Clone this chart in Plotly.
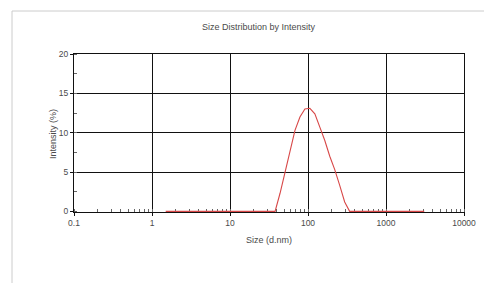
import plotly.graph_objects as go

sizes = [1.499, 1.736, 2.01, 2.328, 2.696, 3.122, 3.615, 4.187, 4.849, 5.615, 6.503,
         7.531, 8.721, 10.1, 11.7, 13.54, 15.69, 18.17, 21.04, 24.36, 28.21, 32.67,
         37.84, 43.82, 50.75, 58.77, 68.06, 78.82, 91.28, 105.7, 122.4, 141.8, 164.2,
         190.1, 220.2, 255.0, 295.3, 342.0, 396.1, 458.7, 531.2, 615.1, 712.4, 825.0,
         955.4, 1106, 1281, 1484, 1718, 1990, 2305, 2669, 3091]
intensity = [0, 0, 0, 0, 0, 0, 0, 0, 0, 0, 0,
             0, 0, 0, 0, 0, 0, 0, 0, 0, 0, 0,
             0, 2.3, 5.0, 7.7, 10.3, 12.0, 13.0, 13.1, 12.4, 10.7, 9.0,
             7.0, 5.3, 3.3, 1.2, 0, 0, 0, 0, 0, 0, 0,
             0, 0, 0, 0, 0, 0, 0, 0, 0]
x_ticks = [0.1, 1, 10, 100, 1000, 10000]
x_ticktext = ["0.1", "1", "10", "100", "1000", "10000"]
y_ticks = [0, 5, 10, 15, 20]

FONT = "Liberation Sans, Arial, sans-serif"
TXT = "#4a4a4a"
OFF = 8  # page body margin

W, H = 492, 285
L, T = 74 - OFF, 54 - OFF
pw, ph = 390, 158
R = W - L - pw
B = H - T - ph

def px(xp):
    return (xp - OFF - L) / pw

def py(yp):
    return (T + ph - (yp - OFF)) / ph

fig = go.Figure()
fig.add_trace(go.Scatter(x=sizes, y=intensity, mode="lines",
                         line=dict(color="#d84848", width=1.1), showlegend=False))

frame = dict(color="#cccccc", width=1)
fig.update_layout(
    width=W, height=H,
    margin=dict(l=L, r=R, t=T, b=B),
    paper_bgcolor="white", plot_bgcolor="white",
    font=dict(family=FONT, size=8, color=TXT),
    xaxis=dict(type="log", range=[-1, 4], tickvals=x_ticks, ticktext=x_ticktext,
               showgrid=True, gridcolor="#111111", gridwidth=1,
               showline=True, linecolor="#111111", linewidth=1, mirror=True,
               ticks="outside", ticklen=3, tickcolor="#111111",
               minor=dict(ticks="inside", ticklen=3, tickcolor="#666666", dtick="D1", showgrid=False),
               zeroline=False, layer="below traces",
               tickfont=dict(family=FONT, size=8.5, color=TXT)),
    yaxis=dict(range=[-0.08, 20], tickvals=y_ticks,
               showgrid=True, gridcolor="#111111", gridwidth=1,
               showline=True, linecolor="#111111", linewidth=1, mirror=True,
               ticks="outside", ticklen=3, tickcolor="#111111",
               minor=dict(ticks="inside", ticklen=3, tickcolor="#666666", dtick=2.5, showgrid=False),
               zeroline=False, layer="below traces",
               tickfont=dict(family=FONT, size=8.5, color=TXT)),
    shapes=[
        dict(type="line", xref="paper", yref="paper", x0=px(12), x1=px(600),
             y0=py(11), y1=py(11), line=frame, layer="below"),
        dict(type="line", xref="paper", yref="paper", x0=px(12), x1=px(12),
             y0=py(11), y1=py(283), line=frame, layer="below"),
    ],
    annotations=[
        dict(text="Size Distribution by Intensity", xref="paper", yref="paper",
             x=px(259), y=py(27), showarrow=False, xanchor="center", yanchor="middle",
             font=dict(family=FONT, size=9, color=TXT)),
        dict(text="Size (d.nm)", xref="paper", yref="paper",
             x=px(269), y=py(240), showarrow=False, xanchor="center", yanchor="middle",
             font=dict(family=FONT, size=9, color=TXT)),
        dict(text="Intensity (%)", xref="paper", yref="paper", textangle=-90,
             x=px(53), y=py(134), showarrow=False, xanchor="center", yanchor="middle",
             font=dict(family=FONT, size=9, color=TXT)),
    ],
)

fig.write_html("out.html")
